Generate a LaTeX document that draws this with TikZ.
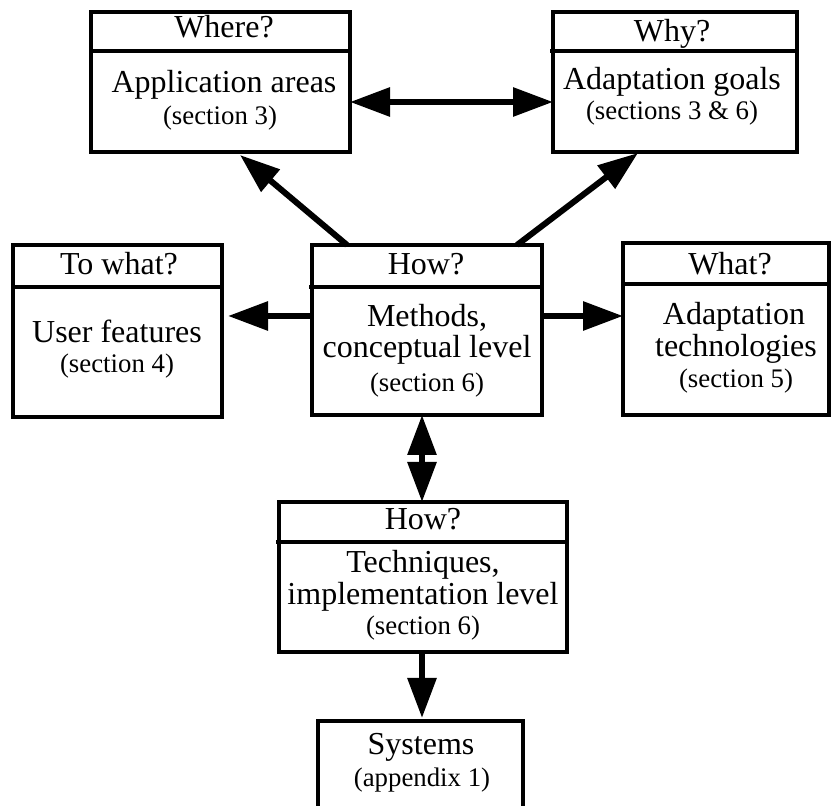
\documentclass[tikz,border=0pt]{standalone}
\usepackage{fontspec}
\setmainfont{Liberation Serif}
\usetikzlibrary{arrows.meta,calc}
\tikzset{
  box/.style={draw, line width=1.8pt, inner sep=0pt, outer sep=0pt},
  divline/.style={line width=1.8pt},
  arr/.style={line width=3pt, -{Triangle[length=20pt,width=14pt]}},
  dbl/.style={line width=3pt, {Triangle[length=20pt,width=14pt]}-{Triangle[length=20pt,width=14pt]}},
  big/.style={anchor=base, inner sep=0pt, font=\fontsize{16}{19}\selectfont},
  small/.style={anchor=base, inner sep=0pt, font=\fontsize{13.4}{16}\selectfont},
}
\begin{document}
\begin{tikzpicture}[x=0.5pt, y=-0.5pt]
\clip (0,0) rectangle (831,806);
\fill[white] (0,0) rectangle (831,806);
% boxes
\node[box, minimum width=129.5pt, minimum height=70pt] (where) at (220.5,82) {};
\node[box, minimum width=122pt, minimum height=70pt] (why) at (675,82) {};
\node[box, minimum width=104.5pt, minimum height=86pt] (towhat) at (117.5,331) {};
\node[box, minimum width=115pt, minimum height=85pt] (how1) at (427,330) {};
\node[box, minimum width=103pt, minimum height=86pt] (what) at (726,329) {};
\node[box, minimum width=144pt, minimum height=75pt] (how2) at (423,577) {};
\node[box, minimum width=102.5pt, minimum height=54.5pt] (systems) at (420.5,775.5) {};
% header dividers
\draw[divline] ($(where.north west)+(0,39)$) -- ($(where.north east)+(0,39)$);
\draw[divline] ($(why.north west)+(-3,39)$) -- ($(why.north east)+(0,39)$);
\draw[divline] ($(towhat.north west)+(0,42)$) -- ($(towhat.north east)+(2,42)$);
\draw[divline] ($(how1.north west)+(-3,42)$) -- ($(how1.north east)+(0,42)$);
\draw[divline] ($(what.north west)+(0,41)$) -- ($(what.north east)+(0,41)$);
\draw[divline] ($(how2.north west)+(-3,40)$) -- ($(how2.north east)+(0,40)$);
% texts
\node[big] (t1a) at (224,38) {Where?};
\node[big] (t1b) at (224,93) {Application areas};
\node[small] (t1c) at (220,125) {(section 3)};
\node[big] (t2a) at (672,42) {Why?};
\node[big] (t2b) at (672,90) {Adaptation goals};
\node[small] (t2c) at (672,120) {(sections 3 \& 6)};
\node[big] (t3a) at (119,275) {To what?};
\node[big] (t3b) at (117,343) {User features};
\node[small] (t3c) at (117,373) {(section 4)};
\node[big] (t4a) at (426,275) {How?};
\node[big] (t4b) at (427,327) {Methods,};
\node[big] (t4c) at (427,358) {conceptual level};
\node[small] (t4d) at (427,392) {(section 6)};
\node[big] (t5a) at (730,275) {What?};
\node[big] (t5b) at (734,325) {Adaptation};
\node[big] (t5c) at (736,357) {technologies};
\node[small] (t5d) at (736,388) {(section 5)};
\node[big] (t6a) at (423,530) {How?};
\node[big] (t6b) at (423,573) {Techniques,};
\node[big] (t6c) at (423,605) {implementation level};
\node[small] (t6d) at (423,635) {(section 6)};
\node[big] (t7a) at (421,755) {Systems};
\node[small] (t7b) at (422,787) {(appendix 1)};
% connectors
\draw[dbl] ($(where.east)+(0,20)$) -- ($(why.west)+(0,20)$);
\draw[arr] ($(how1.north west)+(35,0)$) -- ($(where.south west)+(149,3)$);
\draw[arr] ($(how1.north west)+(205,0)$) -- ($(why.south west)+(85,1)$);
\draw[arr] ($(how1.west)+(0,-14)$) -- ($(towhat.east)+(6,-15)$);
\draw[arr] ($(how1.east)+(0,-14)$) -- ($(what.west)+(0,-13)$);
\draw[dbl] ($(how1.south)+(-5,0)$) -- ($(how2.north)+(-1,0)$);
\draw[arr] ($(how2.south)+(-1,0)$) -- ($(systems.north)+(1.5,-3)$);
\end{tikzpicture}
\end{document}
